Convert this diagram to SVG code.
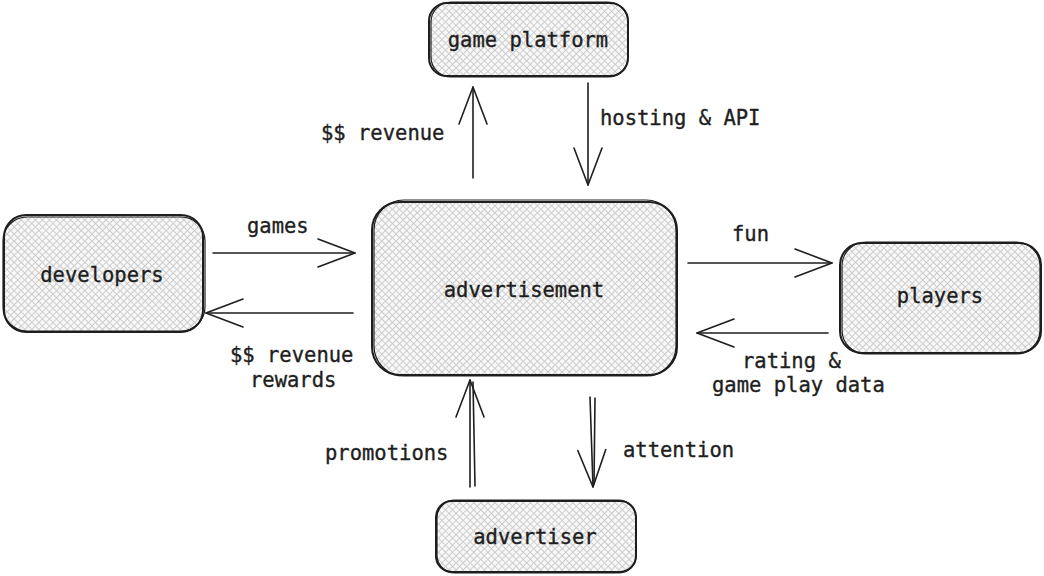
<svg xmlns="http://www.w3.org/2000/svg" width="1044" height="576" viewBox="0 0 1044 576">
<style>
.box{fill:url(#hatch);stroke:#1e1e1e;stroke-width:2}
.box2{fill:none;stroke:#1e1e1e;stroke-width:1.2}
.t{font-family:"DejaVu Sans Mono","Liberation Mono",monospace;font-size:20.5px;fill:#1e1e1e;stroke:#1e1e1e;stroke-width:0.35;text-anchor:middle}
.s{text-anchor:start}
.c{stroke:#1e1e1e;stroke-width:1.6;fill:none;stroke-linecap:round}
</style>
<defs>
<pattern id="hatch" width="5" height="5" patternUnits="userSpaceOnUse" patternTransform="rotate(45)">
<rect width="5" height="5" fill="#f8f8f8"/>
<path d="M0,0.5 H5 M0.5,0 V5" stroke="#cdcdcd" stroke-width="1"/>
</pattern>
<marker id="ah" markerUnits="userSpaceOnUse" markerWidth="42" markerHeight="32" viewBox="0 0 42 32" refX="39" refY="16" orient="auto">
<path d="M2,2 L39,16 L2,30" fill="none" stroke="#1e1e1e" stroke-width="1.6" stroke-linecap="round" stroke-linejoin="round"/>
</marker>
</defs>
<rect width="1044" height="576" fill="#ffffff"/>

<g id="connectors">
<path class="c" d="M473,178 V87" marker-end="url(#ah)"/>
<path class="c" d="M588,83 V185" marker-end="url(#ah)"/>
<path class="c" d="M213,253 H355" marker-end="url(#ah)"/>
<path class="c" d="M353,313 H206" marker-end="url(#ah)"/>
<path class="c" d="M688,263 H832" marker-end="url(#ah)"/>
<path class="c" d="M828,333 H697" marker-end="url(#ah)"/>
<path class="c" d="M470,487 V380" marker-end="url(#ah)"/>
<path class="c" d="M475,486 L473,382"/>
<path class="c" d="M590,397 L593,487" marker-end="url(#ah)"/>
<path class="c" d="M595,398 L594,484"/>
</g>

<g id="game-platform">
<rect class="box" x="429" y="3" width="199" height="73" rx="18"/>
<rect class="box2" x="431" y="2" width="197" height="75" rx="20"/>
<text class="t" x="528" y="47">game platform</text>
</g>

<g id="developers">
<rect class="box" x="4" y="215" width="199" height="117" rx="22"/>
<rect class="box2" x="3" y="217" width="202" height="114" rx="24"/>
<text class="t" x="102" y="282">developers</text>
</g>

<g id="advertisement">
<rect class="box" x="372" y="202" width="305" height="173" rx="28"/>
<rect class="box2" x="374" y="200" width="302" height="176" rx="30"/>
<text class="t" x="524" y="297">advertisement</text>
</g>

<g id="players">
<rect class="box" x="840" y="243" width="201" height="110" rx="22"/>
<rect class="box2" x="842" y="242" width="198" height="112" rx="24"/>
<text class="t" x="940" y="303">players</text>
</g>

<g id="advertiser">
<rect class="box" x="436" y="501" width="200" height="71" rx="16"/>
<rect class="box2" x="437" y="500" width="199" height="73" rx="18"/>
<text class="t" x="535" y="544">advertiser</text>
</g>

<g id="labels">
<text class="t s" x="321" y="140">$$ revenue</text>
<text class="t s" x="600" y="125">hosting &amp; API</text>
<text class="t s" x="247" y="233">games</text>
<text class="t s" x="230" y="362">$$ revenue</text>
<text class="t s" x="250" y="387">rewards</text>
<text class="t s" x="732" y="241">fun</text>
<text class="t s" x="742" y="368">rating &amp;</text>
<text class="t s" x="712" y="392">game play data</text>
<text class="t s" x="325" y="460">promotions</text>
<text class="t s" x="623" y="457">attention</text>
</g>
</svg>
